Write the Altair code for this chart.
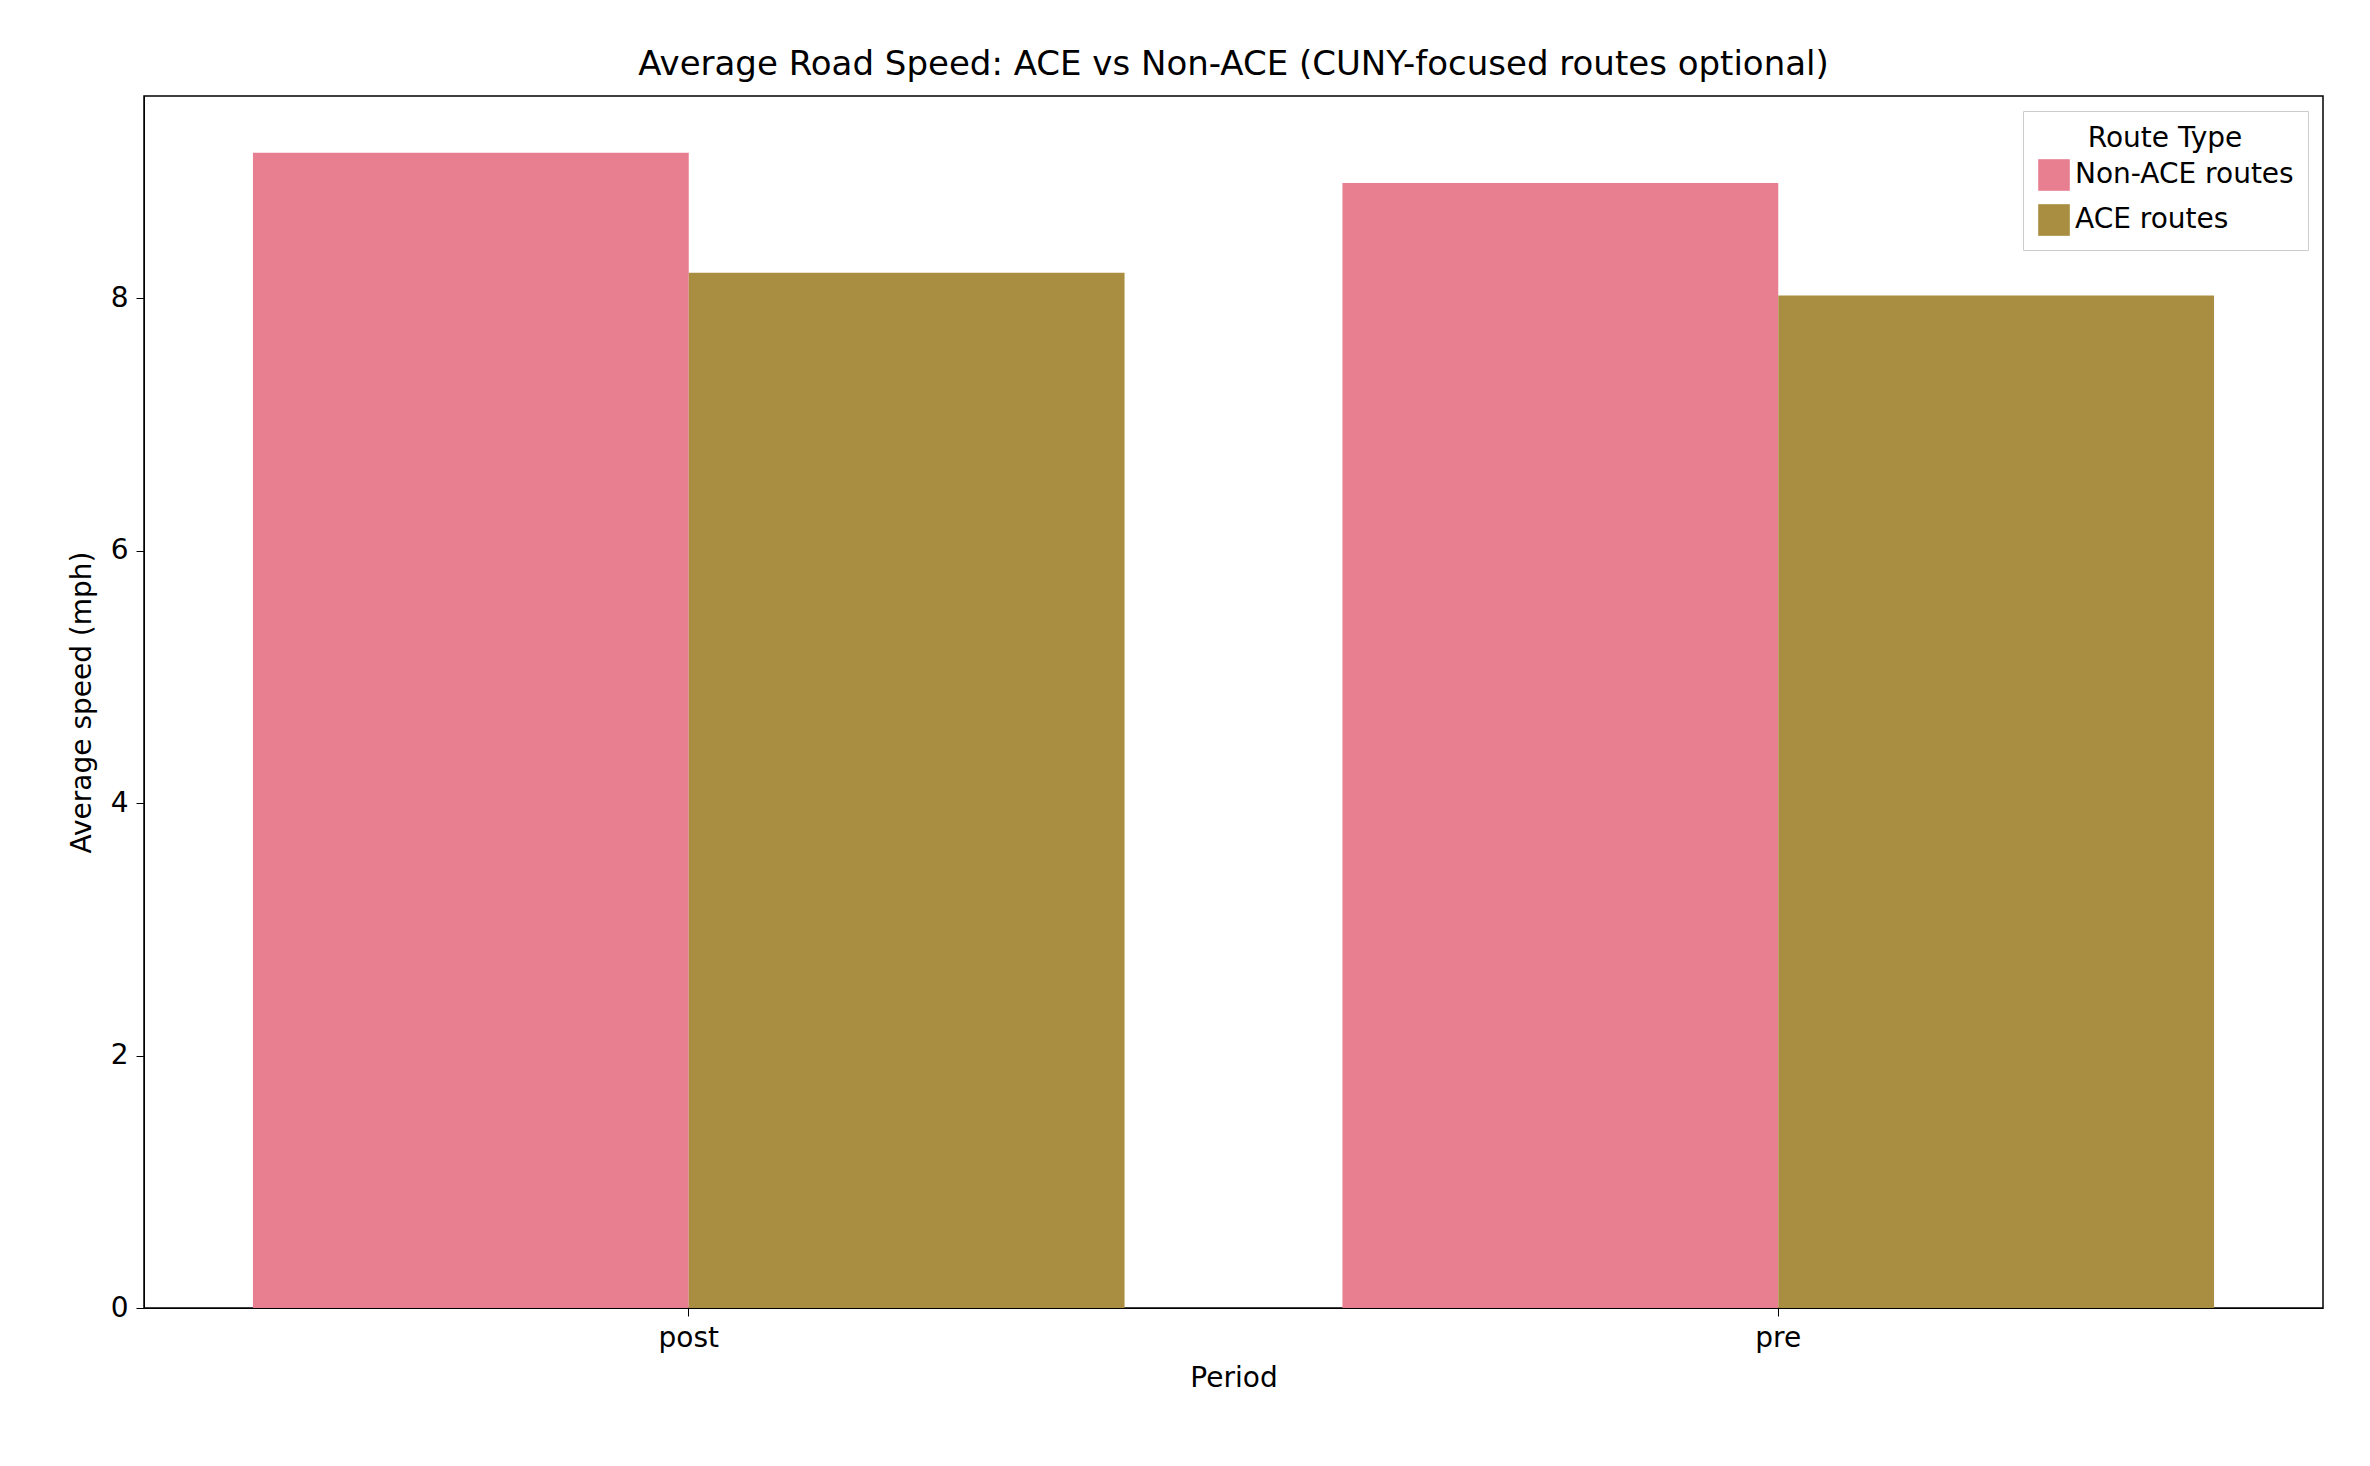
import altair as alt
import pandas as pd

# Data
periods = ["post", "post", "pre", "pre"]
route_types = ["Non-ACE routes", "ACE routes", "Non-ACE routes", "ACE routes"]
speeds = [9.15, 8.20, 8.91, 8.02]

df = pd.DataFrame({"Period": periods, "Route Type": route_types, "Speed": speeds})

order = ["Non-ACE routes", "ACE routes"]
font = "DejaVu Sans"

chart = (
    alt.Chart(df)
    .mark_bar(opacity=1)
    .encode(
        x=alt.X(
            "Period:N",
            title="Period",
            sort=["post", "pre"],
            scale=alt.Scale(paddingInner=0.2, paddingOuter=0.1),
            axis=alt.Axis(labelAngle=0, tickSize=8, tickColor="black", domainColor="black",
                          labelPadding=8, titlePadding=12),
        ),
        xOffset=alt.XOffset("Route Type:N", sort=order),
        y=alt.Y(
            "Speed:Q",
            title="Average speed (mph)",
            scale=alt.Scale(domain=[0, 9.6], nice=False),
            axis=alt.Axis(values=[0, 2, 4, 6, 8], grid=False, tickSize=8, tickColor="black",
                          domainColor="black", labelPadding=8, titlePadding=14),
        ),
        color=alt.Color(
            "Route Type:N",
            sort=order,
            scale=alt.Scale(domain=order, range=["#e77f91", "#a98e41"]),
            legend=alt.Legend(
                title="Route Type",
                orient="top-right",
                offset=15,
                fillColor="rgba(255,255,255,0.8)",
                strokeColor="#cccccc",
                padding=14,
                symbolType="square",
                symbolSize=1000,
                titleAnchor="middle",
                rowPadding=12,
                labelLimit=400,
            ),
        ),
    )
    .properties(
        width=2179,
        height=1212,
        padding={"left": 60, "top": 40, "right": 10, "bottom": 10},
        title=alt.Title("Average Road Speed: ACE vs Non-ACE (CUNY-focused routes optional)",
                        fontSize=34, fontWeight="normal", font=font, offset=14),
    )
    .configure_view(stroke="black", strokeWidth=1.5)
    .configure_axis(labelFont=font, titleFont=font, labelFontSize=28, titleFontSize=28,
                    titleFontWeight="normal", labelColor="black", titleColor="black")
    .configure_legend(labelFont=font, titleFont=font, labelFontSize=28, titleFontSize=28,
                      titleFontWeight="normal", labelColor="black", titleColor="black")
)

chart.save("out.html", embed_options={"renderer": "svg", "actions": False})
